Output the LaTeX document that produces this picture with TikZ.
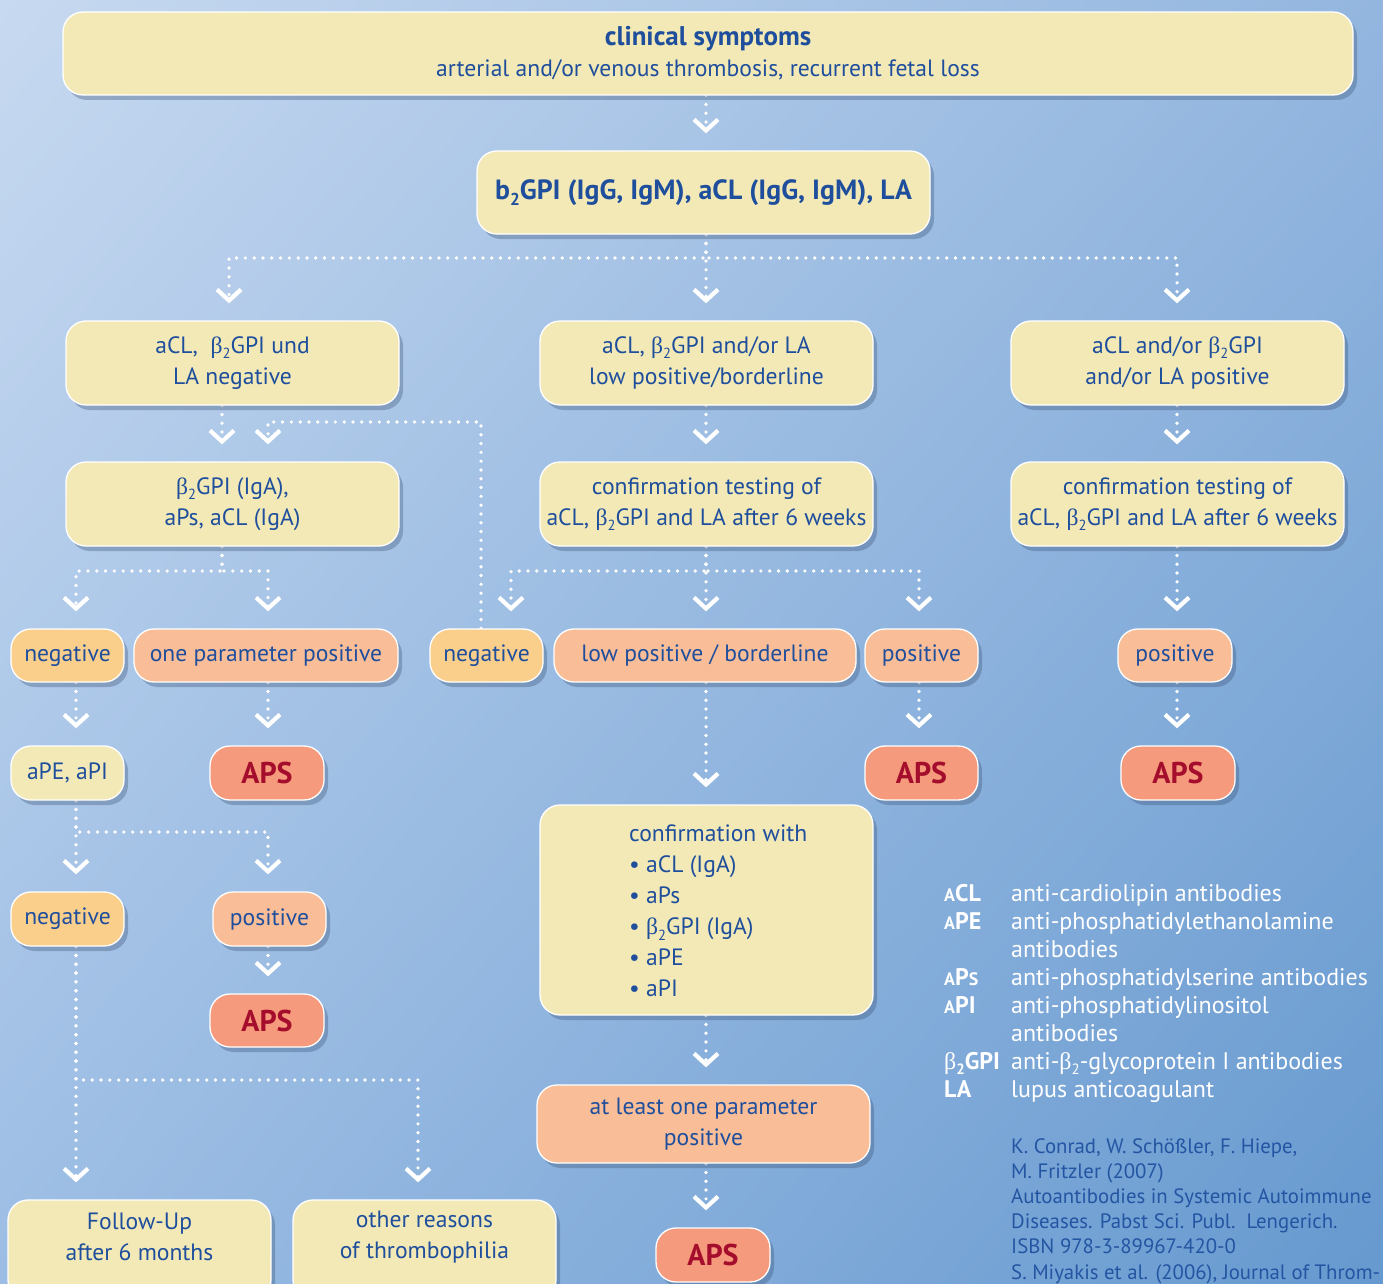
\documentclass[tikz,border=0pt]{standalone}
\usepackage{fontspec}
\usepackage{graphicx}
\setmainfont{PT Sans}
\newfontfamily\betafont{Liberation Serif}
\usetikzlibrary{arrows.meta,shadows,shadings,calc}
\pgfdeclarelayer{background}
\pgfsetlayers{background,main}

\definecolor{bgTL}{HTML}{C7D9F0}
\definecolor{bgTR}{HTML}{93B6DF}
\definecolor{bgBL}{HTML}{9CBDE4}
\definecolor{bgBR}{HTML}{6699CF}
\definecolor{boxyel}{HTML}{F2E9B7}
\definecolor{boxora}{HTML}{FACF8C}
\definecolor{boxsal}{HTML}{F9BE98}
\definecolor{boxaps}{HTML}{F59A7C}
\definecolor{apsred}{HTML}{A50D2C}
\definecolor{txtblue}{HTML}{1E4E9C}
\definecolor{refblue}{HTML}{2455A3}
\definecolor{shadowcol}{HTML}{3A5478}

\newcommand\subtwo{\raisebox{-0.22em}{\scalebox{0.62}{2}}}
\newcommand\btwo{{\betafont β}\subtwo}
\newcommand\fmain{\fontsize{23.6}{31}\selectfont}
\newcommand\sca[1]{{\fontsize{18}{18}\selectfont #1}}

\tikzset{
  box/.style={rounded corners=20pt, draw=white, line width=1.3pt, fill=boxyel,
    text=txtblue, font=\fmain, align=center, inner sep=0pt,
    drop shadow={shadow xshift=4pt, shadow yshift=-5pt, fill=shadowcol, opacity=0.35}},
  negbox/.style={box, fill=boxora},
  posbox/.style={box, fill=boxsal},
  apsbox/.style={box, fill=boxaps, text=apsred, font=\fontsize{30}{31}\selectfont\bfseries},
  txt/.style={text=txtblue, font=\fmain, align=center, inner sep=0pt},
  conn/.style={draw=white, line width=3.7pt, line cap=round, dash pattern=on 0pt off 8.8pt,
    shorten >=17pt, -{Straight Barb[length=11pt,width=24pt,line width=4.2pt]}},
  legab/.style={text=white, font=\fontsize{24}{28}\selectfont\bfseries, align=left, inner sep=0pt},
  legtx/.style={text=white, font=\fontsize{24}{28}\selectfont, align=left, inner sep=0pt},
  reftx/.style={text=refblue, font=\fontsize{20.8}{25.2}\selectfont, align=left, inner sep=0pt}
}

\begin{document}
\begin{tikzpicture}[x=1pt,y=-1pt]
\useasboundingbox (0,0) rectangle (1383,1284);
\clip (0,0) rectangle (1383,1284);
\begin{pgfonlayer}{background}
\shade[upper left=bgTL, upper right=bgTR, lower left=bgBL, lower right=bgBR] (0,0) rectangle (1383,1284);
\end{pgfonlayer}

% column and row coordinates
\coordinate (xA) at (76,0);
\coordinate (xB) at (222,0);
\coordinate (xC) at (268,0);
\coordinate (xD) at (481,0);
\coordinate (xE) at (511,0);
\coordinate (xG) at (418,0);
\coordinate (xL) at (229,0);
\coordinate (xM) at (706,0);
\coordinate (xF) at (919,0);
\coordinate (xR) at (1177,0);
\coordinate (h1) at (0,258);
\coordinate (h2) at (0,422);
\coordinate (h3) at (0,571);
\coordinate (h4) at (0,832);
\coordinate (h5) at (0,1080);

% nodes
\node[box, minimum width=1290pt, minimum height=83pt] (top) at (708,53.5)
  {{\fontsize{27}{32}\selectfont\bfseries clinical symptoms}\\arterial and/or venous thrombosis, recurrent fetal loss};
\node[box, minimum width=453pt, minimum height=83pt, font=\fontsize{27.8}{31}\selectfont\bfseries] (b2) at (703.5,192.5)
  {b\subtwo GPI (IgG, IgM), aCL (IgG, IgM), LA};

\node[box, minimum width=333pt, minimum height=84pt] (L2) at (232.5,363) {aCL,\ \ \btwo GPI und\\LA negative};
\node[box, minimum width=333pt, minimum height=84pt] (M2) at (706.5,363) {aCL, \btwo GPI and/or LA\\low positive/borderline};
\node[box, minimum width=333pt, minimum height=84pt] (R2) at (1177.5,363) {aCL and/or \btwo GPI\\and/or LA positive};

\node[box, minimum width=333pt, minimum height=84pt] (L3) at (232.5,504) {\btwo GPI (IgA),\\aPs, aCL (IgA)};
\node[box, minimum width=333pt, minimum height=84pt] (M3) at (706.5,504) {confirmation testing of\\aCL, \btwo GPI and LA after 6 weeks};
\node[box, minimum width=333pt, minimum height=84pt] (R3) at (1177.5,504) {confirmation testing of\\aCL, \btwo GPI and LA after 6 weeks};

\node[negbox, minimum width=113pt, minimum height=53pt] (negA) at (67.5,655.5) {negative};
\node[posbox, minimum width=264pt, minimum height=53pt] (onep) at (266,655.5) {one parameter positive};
\node[negbox, minimum width=113pt, minimum height=53pt] (negB) at (486.5,655.5) {negative};
\node[posbox, minimum width=302pt, minimum height=53pt] (lowp) at (705,655.5) {low positive / borderline};
\node[posbox, minimum width=113pt, minimum height=53pt] (posA) at (921.5,655.5) {positive};
\node[posbox, minimum width=114pt, minimum height=53pt] (posB) at (1175,655.5) {positive};

\node[box, minimum width=113pt, minimum height=54pt] (apea) at (67.5,773) {aPE, aPI};
\node[apsbox, minimum width=114pt, minimum height=54pt] (aps1) at (267,773) {APS};
\node[apsbox, minimum width=113pt, minimum height=54pt] (aps2) at (921.5,773) {APS};
\node[apsbox, minimum width=114pt, minimum height=54pt] (aps3) at (1178,773) {APS};

\node[box, minimum width=333pt, minimum height=210pt] (conf) at (706.5,910) {};
\node[txt, align=left, anchor=north west] (conftx) at (629,825)
  {confirmation with\\\textbullet\ aCL (IgA)\\\textbullet\ aPs\\\textbullet\ \btwo GPI (IgA)\\\textbullet\ aPE\\\textbullet\ aPI};

\node[posbox, minimum width=333pt, minimum height=78pt] (alop) at (703.5,1124) {at least one parameter\\positive};
\node[apsbox, minimum width=114pt, minimum height=54pt] (aps4) at (713,1255) {APS};

\node[negbox, minimum width=113pt, minimum height=54pt] (neg2) at (67.5,919) {negative};
\node[posbox, minimum width=113pt, minimum height=54pt] (pos2) at (269.5,919) {positive};
\node[apsbox, minimum width=114pt, minimum height=53pt] (aps5) at (267,1020.5) {APS};

\node[box, minimum width=263pt, minimum height=100pt] (fu) at (139.5,1250) {};
\node[txt] (futx) at (139.5,1237) {Follow-Up\\after 6 months};
\node[box, minimum width=263pt, minimum height=100pt] (oth) at (424.5,1250) {};
\node[txt] (othtx) at (424.5,1237) {other reasons\\of thrombophilia};

% legend
\node[legab, anchor=north west] (abbr) at (944,884)
  {\sca{A}CL\\\sca{A}PE\\\mbox{}\\\sca{A}P\sca{S}\\\sca{A}PI\\\mbox{}\\{\mdseries\betafont β}\subtwo GPI\\LA};
\node[legtx, anchor=north west] (desc) at (1011,884)
  {anti-cardiolipin antibodies\\anti-phosphatidylethanolamine\\antibodies\\anti-phosphatidylserine antibodies\\anti-phosphatidylinositol\\antibodies\\anti-\btwo-glycoprotein I antibodies\\lupus anticoagulant};
\node[reftx, anchor=north west] (refs) at (1011,1138)
  {K. Conrad, W. Schößler, F. Hiepe,\\M. Fritzler (2007)\\Autoantibodies in Systemic Autoimmune\\Diseases. Pabst Sci. Publ.\ \ Lengerich.\\ISBN 978-3-89967-420-0\\S. Miyakis et al. (2006), Journal of Throm-};

% connectors
\begin{pgfonlayer}{background}
\draw[conn] (top.south -| xM) -- (b2.north -| xM);
\draw[conn] (b2.south -| xM) |- (h1 -| xL) -- (L2.north -| xL);
\draw[conn] (b2.south -| xM) -- (M2.north -| xM);
\draw[conn] (b2.south -| xM) |- (h1 -| xR) -- (R2.north -| xR);
\draw[conn] (L2.south -| xB) -- (L3.north -| xB);
\draw[conn] (M2.south -| xM) -- (M3.north -| xM);
\draw[conn] (R2.south -| xR) -- (R3.north -| xR);
\draw[conn] (negB.north -| xD) |- (h2 -| xC) -- (L3.north -| xC);
\draw[conn] (L3.south -| xB) |- (h3 -| xA) -- (negA.north -| xA);
\draw[conn] (L3.south -| xB) |- (h3 -| xC) -- (onep.north -| xC);
\draw[conn] (M3.south -| xM) |- (h3 -| xE) -- (negB.north -| xE);
\draw[conn] (M3.south -| xM) -- (lowp.north -| xM);
\draw[conn] (M3.south -| xM) |- (h3 -| xF) -- (posA.north -| xF);
\draw[conn] (R3.south -| xR) -- (posB.north -| xR);
\draw[conn] (negA.south -| xA) -- (apea.north -| xA);
\draw[conn] (onep.south -| xC) -- (aps1.north -| xC);
\draw[conn] (posA.south -| xF) -- (aps2.north -| xF);
\draw[conn] (posB.south -| xR) -- (aps3.north -| xR);
\draw[conn] (lowp.south -| xM) -- (conf.north -| xM);
\draw[conn] (conf.south -| xM) -- (alop.north -| xM);
\draw[conn] (alop.south -| xM) -- (aps4.north -| xM);
\draw[conn] (apea.south -| xA) -- (neg2.north -| xA);
\draw[conn] (apea.south -| xA) |- (h4 -| xC) -- (pos2.north -| xC);
\draw[conn] (pos2.south -| xC) -- (aps5.north -| xC);
\draw[conn] (neg2.south -| xA) -- (fu.north -| xA);
\draw[conn] (neg2.south -| xA) |- (h5 -| xG) -- (oth.north -| xG);
\end{pgfonlayer}
\end{tikzpicture}
\end{document}
